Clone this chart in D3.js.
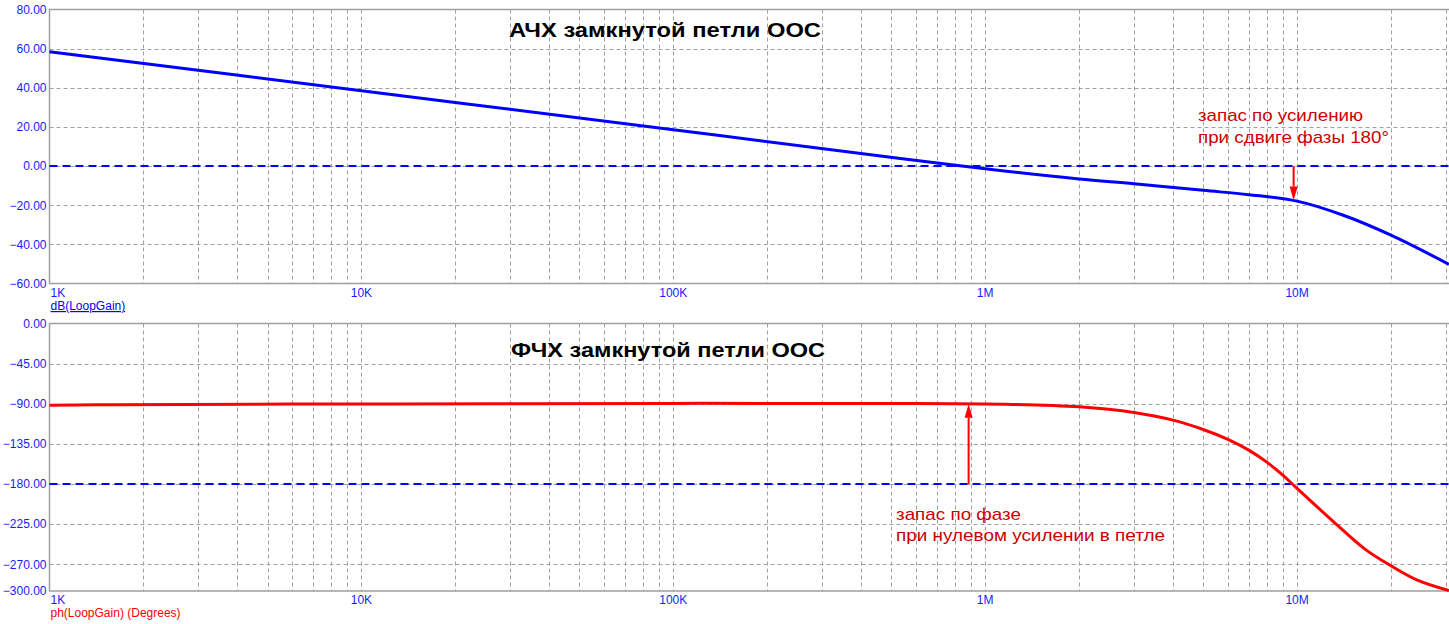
<!DOCTYPE html>
<html>
<head>
<meta charset="utf-8">
<script src="https://cdn.jsdelivr.net/npm/d3@7"></script>
<style>
  html, body { margin: 0; padding: 0; background: #fff; }
  svg { display: block; }
  text { font-family: "Liberation Sans", Arial, sans-serif; }
</style>
</head>
<body>
<svg id="chart" width="1449" height="624"></svg>
<script>
// ---- data ----
const freqTicks = [1e3, 1e4, 1e5, 1e6, 1e7];
const freqTickLabels = ["1K", "10K", "100K", "1M", "10M"];
const gainTicks = [80, 60, 40, 20, 0, -20, -40, -60];
const phaseTicks = [0, -45, -90, -135, -180, -225, -270, -300];

const magFreq = [1e3, 1e4, 1e5, 5.35e5, 1e6, 2e6, 3e6, 5e6, 7e6, 1e7, 1.4e7, 2e7, 3.07e7];
const magDb   = [58.4, 38.5, 18.6, 3.9, -1.4, -6.6, -9.0, -12.4, -14.6, -17.9, -25.0, -35.3, -50.2];

const phaseFreq = [1e3, 1.6e3, 1.2e4, 1e5, 5e5, 1.12e6, 2e6, 3e6, 4e6, 5e6, 6e6, 7e6, 8e6, 9e6, 1e7, 1.31e7, 1.65e7, 2e7, 2.43e7, 3.07e7];
const phaseDeg  = [-91.8, -91.0, -90.2, -89.6, -89.6, -90.5, -93.5, -99.8, -108.4, -118.9, -130.0, -142.0, -155.5, -170, -185, -222.4, -253, -271.7, -287.8, -299.5];

const gainRef = 0;        // dB reference line
const phaseRef = -180;    // degrees reference line
const gainMarginFreq = 9.75e6;
const gainMarginDb = -17.6;
const phaseMarginFreq = 8.85e5;
const phaseMarginDeg = -90;

const titles = ["АЧХ замкнутой петли ООС", "ФЧХ замкнутой петли ООС"];
const gainNote = ["запас по усилению", "при сдвиге фазы 180°"];
const phaseNote = ["запас по фазе", "при нулевом усилении в петле"];
const traceNames = ["dB(LoopGain)", "ph(LoopGain) (Degrees)"];

// ---- layout ----
const svg = d3.select("#chart");
const L = 49.5, R = 1449;
const top1 = 9.5, bot1 = 283.5;
const top2 = 323.5, bot2 = 591;
const gridColor = "#a0a0a0";
const labelBlue = "#1a1aff";

const x = d3.scaleLog().domain([1e3, 3.07e7]).range([L, R]);
const yG = d3.scaleLinear().domain([-60, 80]).range([bot1, top1]);
const yP = d3.scaleLinear().domain([-300, 0]).range([bot2, top2]);

const gridFreqs = [];
for (let d = 1e3; d <= 1e7; d *= 10) {
  for (let m = 1; m <= 9; m++) { const f = d * m; if (f <= 3.07e7) gridFreqs.push(f); }
}

function panel(y, yTicks, top, bot, refVal) {
  const g = svg.append("g");
  g.selectAll("line.vg").data(gridFreqs.filter(f => f > 1e3)).enter().append("line")
    .attr("x1", d => Math.round(x(d)) + 0.5).attr("x2", d => Math.round(x(d)) + 0.5)
    .attr("y1", top).attr("y2", bot)
    .attr("stroke", gridColor).attr("stroke-width", 1).attr("stroke-dasharray", "4,3");
  g.selectAll("line.hg").data(yTicks.filter(v => y(v) > top + 1 && y(v) < bot - 1)).enter().append("line")
    .attr("x1", L).attr("x2", R)
    .attr("y1", d => Math.round(y(d)) + 0.5).attr("y2", d => Math.round(y(d)) + 0.5)
    .attr("stroke", gridColor).attr("stroke-width", 1).attr("stroke-dasharray", "4,3");
  g.append("path")
    .attr("d", `M${R},${top}H${L}V${bot}H${R}`)
    .attr("fill", "none").attr("stroke", gridColor).attr("stroke-width", 1.5);
  const axis = d3.axisLeft(y).tickValues(yTicks).tickSize(0).tickPadding(3)
    .tickFormat(d3.format(".2f"));
  const ax = g.append("g").attr("transform", `translate(${L},0)`).call(axis);
  ax.select(".domain").remove();
  ax.selectAll("text").attr("fill", labelBlue).attr("font-size", 12)
    .style("font-family", "'Liberation Sans', Arial, sans-serif");
  g.append("line").attr("x1", L).attr("x2", R)
    .attr("y1", y(refVal)).attr("y2", y(refVal))
    .attr("stroke", "#0000ff").attr("stroke-width", 2).attr("stroke-dasharray", "8,5");
  const xa = g.append("g");
  xa.selectAll("text").data(freqTicks).enter().append("text")
    .attr("x", (d, i) => i === 0 ? L + 1 : x(d))
    .attr("y", bot + 13)
    .attr("text-anchor", (d, i) => i === 0 ? "start" : "middle")
    .attr("font-size", 12).attr("fill", labelBlue)
    .text((d, i) => freqTickLabels[i]);
  return g;
}

panel(yG, gainTicks, top1, bot1, gainRef);
panel(yP, phaseTicks, top2, bot2, phaseRef);

// traces
const magLine = d3.line().x(d => x(d[0])).y(d => yG(d[1])).curve(d3.curveCatmullRom.alpha(0.5));
svg.append("path").datum(d3.zip(magFreq, magDb)).attr("d", magLine)
  .attr("fill", "none").attr("stroke", "#0000ff").attr("stroke-width", 3);

const phLine = d3.line().x(d => x(d[0])).y(d => yP(d[1])).curve(d3.curveCatmullRom.alpha(0.5));
svg.append("path").datum(d3.zip(phaseFreq, phaseDeg)).attr("d", phLine)
  .attr("fill", "none").attr("stroke", "#ff0000").attr("stroke-width", 3);

// trace names
svg.append("text").attr("x", L + 1).attr("y", 310).attr("font-size", 12)
  .attr("fill", "#0000ff").attr("text-decoration", "underline").text(traceNames[0]);
svg.append("text").attr("x", L + 1).attr("y", 617).attr("font-size", 12)
  .attr("fill", "#ff0000").text(traceNames[1]);

// titles
svg.append("text").attr("x", 509).attr("y", 37)
  .attr("font-size", 21).attr("font-weight", "bold").attr("fill", "#000")
  .attr("textLength", 312).attr("lengthAdjust", "spacingAndGlyphs").text(titles[0]);
svg.append("text").attr("x", 511).attr("y", 357)
  .attr("font-size", 21).attr("font-weight", "bold").attr("fill", "#000")
  .attr("textLength", 314).attr("lengthAdjust", "spacingAndGlyphs").text(titles[1]);

// arrows
function arrow(x0, y0, y1) {
  const dir = y1 > y0 ? 1 : -1;
  const headLen = 14, headW = 4;
  svg.append("line").attr("x1", x0).attr("x2", x0).attr("y1", y0).attr("y2", y1 - dir * headLen)
    .attr("stroke", "#ff0000").attr("stroke-width", 2);
  svg.append("path")
    .attr("d", `M${x0},${y1}L${x0 - headW},${y1 - dir * headLen}L${x0 + headW},${y1 - dir * headLen}Z`)
    .attr("fill", "#ff0000");
}
arrow(x(gainMarginFreq), yG(gainRef), yG(gainMarginDb));
arrow(x(phaseMarginFreq), yP(phaseRef), yP(phaseMarginDeg));

// notes
const noteColor = "#cc0000";
const gainNoteW = [165, 191];
const phaseNoteW = [125, 269];
gainNote.forEach((t, i) => svg.append("text").attr("x", 1198).attr("y", 121 + i * 22)
  .attr("font-size", 17).attr("fill", noteColor)
  .attr("textLength", gainNoteW[i]).attr("lengthAdjust", "spacingAndGlyphs").text(t));
phaseNote.forEach((t, i) => svg.append("text").attr("x", 896).attr("y", 520 + i * 21)
  .attr("font-size", 17).attr("fill", noteColor)
  .attr("textLength", phaseNoteW[i]).attr("lengthAdjust", "spacingAndGlyphs").text(t));
</script>
</body>
</html>
